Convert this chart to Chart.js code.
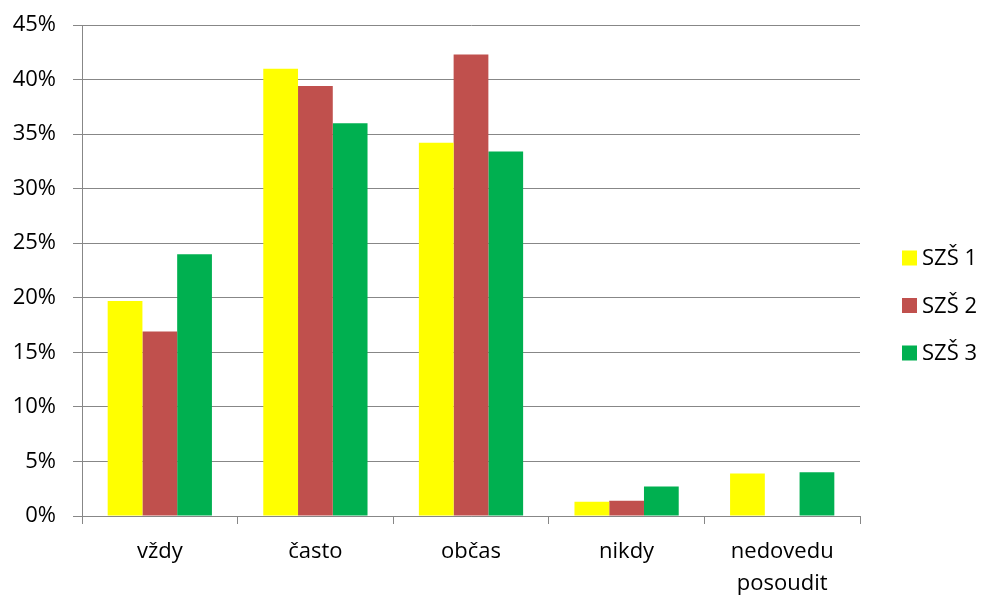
<!DOCTYPE html>
<html>
<head>
<meta charset="utf-8">
<script src="https://cdn.jsdelivr.net/npm/chart.js@4/dist/chart.umd.min.js"></script>
<style>
  html, body { margin: 0; padding: 0; background: #ffffff; }
  #wrap { width: 982px; height: 596px; position: relative; }
</style>
</head>
<body>
<div id="wrap"><canvas id="c" width="982" height="596"></canvas></div>
<script>
// Answer categories (x axis)
const categories = ['vždy', 'často', 'občas', 'nikdy', ['nedovedu', 'posoudit']];

// Share of answers per school, in percent
const szs1 = [19.7, 41.0, 34.2, 1.3, 3.9];
const szs2 = [16.9, 39.4, 42.3, 1.4, 0];
const szs3 = [24.0, 36.0, 33.4, 2.7, 4.0];

const seriesNames = ['SZŠ 1', 'SZŠ 2', 'SZŠ 3'];
const seriesColors = ['#FFFF00', '#C0504D', '#00B050'];

// Y axis ticks (percent)
const yTicks = [0, 5, 10, 15, 20, 25, 30, 35, 40, 45];

const FONT = '"Open Sans", "DejaVu Sans", sans-serif';
const GRID = '#878787';

// Legend drawn beside the plot, one row per series
const sideLegend = {
  id: 'sideLegend',
  afterDraw(chart) {
    const ctx = chart.ctx;
    const ds = chart.data.datasets;
    const box = 15, gap = 47.5;
    const cy0 = 305.5 - gap * (ds.length - 1) / 2;
    ctx.save();
    ctx.font = '22px ' + FONT;
    ctx.textBaseline = 'middle';
    ctx.textAlign = 'left';
    ds.forEach((d, i) => {
      const cy = cy0 + i * gap;
      ctx.fillStyle = d.backgroundColor;
      ctx.fillRect(902, cy - box / 2, box, box);
      ctx.fillStyle = '#000000';
      ctx.fillText(d.label, 922, cy + 1);
    });
    ctx.restore();
  }
};

new Chart(document.getElementById('c'), {
  type: 'bar',
  data: {
    labels: categories,
    datasets: [szs1, szs2, szs3].map((vals, i) => ({
      label: seriesNames[i],
      data: vals,
      backgroundColor: seriesColors[i],
      borderWidth: 0,
      barPercentage: 1,
      categoryPercentage: 0.67
    }))
  },
  options: {
    responsive: false,
    animation: false,
    devicePixelRatio: 1,
    layout: { padding: { left: 0, right: 122, top: 25, bottom: 0 } },
    plugins: {
      legend: { display: false },
      tooltip: { enabled: false }
    },
    scales: {
      x: {
        grid: {
          display: true,
          drawOnChartArea: false,
          drawTicks: true,
          tickLength: 8,
          offset: true,
          color: GRID,
          lineWidth: 1
        },
        border: { display: true, color: GRID, width: 1 },
        ticks: {
          color: '#000000',
          font: { family: FONT, size: 22, lineHeight: 1.45 },
          padding: 12,
          maxRotation: 0,
          autoSkip: false
        },
        afterFit(scale) {
          scale.height = 80;
          scale.paddingLeft = 0;
          scale.paddingRight = 0;
        }
      },
      y: {
        min: 0,
        max: 45,
        afterBuildTicks(scale) { scale.ticks = yTicks.map(v => ({ value: v })); },
        grid: {
          color: GRID,
          lineWidth: 1,
          drawTicks: true,
          tickLength: 9
        },
        border: { display: true, color: GRID, width: 1 },
        ticks: {
          color: '#000000',
          font: { family: FONT, size: 22 },
          padding: 17,
          callback: v => v + '%'
        },
        afterFit(scale) {
          scale.width = 82;
          scale.paddingTop = 0;
          scale.paddingBottom = 0;
        }
      }
    }
  },
  plugins: [sideLegend]
});
</script>
</body>
</html>
